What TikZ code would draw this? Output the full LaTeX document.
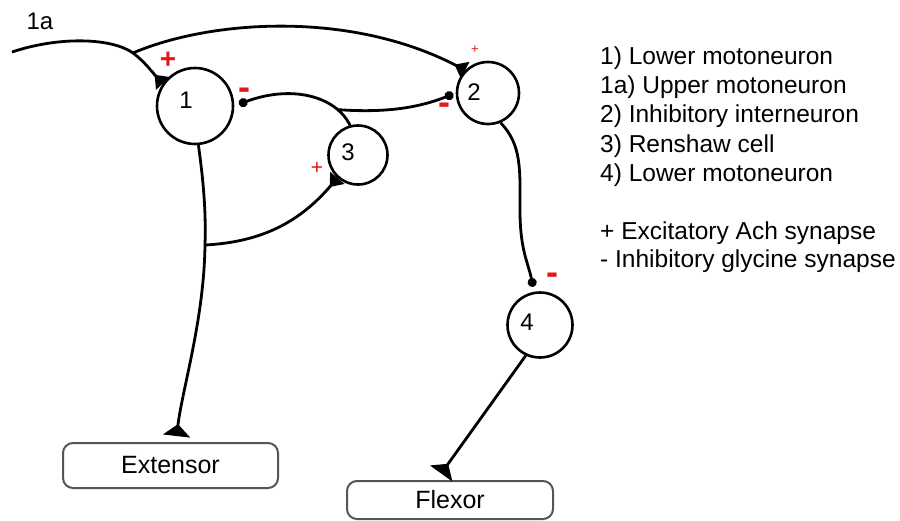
\documentclass[tikz,border=0pt]{standalone}
\usepackage{fontspec}
\setmainfont{Liberation Sans}
\usetikzlibrary{arrows.meta,calc}
\definecolor{synred}{RGB}{228,24,24}
\definecolor{boxgray}{RGB}{85,85,85}
\begin{document}
\begin{tikzpicture}[x=1pt,y=-1pt,
  neuron/.style={circle,draw,line width=2.6pt,minimum size=#1,inner sep=0pt},
  musclebox/.style={draw=boxgray,line width=2pt,rounded corners=10pt,
    minimum width=#1,minimum height=45pt,inner sep=0pt,font=\fontsize{25}{29}\selectfont},
  ax/.style={line width=2.8pt},
  exc/.style={-{Triangle[reversed,width=18pt,length=12pt]}},
  excbig/.style={-{Triangle[reversed,width=27pt,length=12pt]}},
  inh/.style={-{Circle[length=9pt]},shorten >=5pt},
  numlbl/.style={font=\fontsize{24}{28}\selectfont,inner sep=0pt},
  legend/.style={anchor=base west,inner sep=0pt,font=\fontsize{24.5}{29}\selectfont},
  sign/.style={text=synred,inner sep=0pt,font=\fontsize{#1}{#1}\selectfont\bfseries},
  thinsign/.style={text=synred,inner sep=0pt,font=\fontsize{#1}{#1}\selectfont}]
\useasboundingbox (0,0) rectangle (900,520);
\fill[white] (0,0) rectangle (900,520);

% neurons
\node[neuron=76pt] (c1) at (195,106) {};
\node[neuron=62pt] (c2) at (488,93) {};
\node[neuron=59pt] (c3) at (358,155) {};
\node[neuron=65pt] (c4) at (540,325) {};
\node[numlbl] (l1) at (186,100) {1};
\node[numlbl] (l2) at (474,92) {2};
\node[numlbl] (l3) at (348,152) {3};
\node[numlbl] (l4) at (527,322) {4};

% muscles
\node[musclebox=215pt] (ext) at (170.5,465.5) {Extensor};
\node[musclebox=206pt,minimum height=38pt] (flx) at (450,500) {Flexor};

% 1a afferent
\coordinate (a0) at (12,52);
\node[numlbl] (la) at (40,21) {1a};
\draw[ax,exc] (a0) .. controls (60,36) and (112,38) .. coordinate[pos=1] (j1) (133,53)
   .. controls (145,62) and (152,72) .. (c1.145);
\draw[ax,exc] (j1) .. controls (210,20) and (350,10) .. (c2.135);

% Renshaw axon to 1 and 2
\draw[ax,inh] (c3.105) .. controls (335,95) and (290,85) .. coordinate[pos=0.2] (j2) (c1.east);
\draw[ax,inh,shorten >=2.5pt] (j2) .. controls (385,113) and (418,108) .. (c2.west);

% 2 to 4
\coordinate (m2) at (520,210);
\draw[ax] (c2.-67) .. controls (522,145) and (520,170) .. (m2);
\draw[ax,inh] (m2) .. controls (520,250) and (528,262) .. (c4.100);

% 1 to extensor, branch to 3
\coordinate (j3) at (205,245);
\draw[ax] (c1.-85) .. controls (204,185) and (206,215) .. (j3);
\draw[ax,excbig,shorten >=6pt] (j3) .. controls (204,320) and (182,390) .. (ext.77);
\draw[ax,exc] (j3) .. controls (262,242) and (300,222) .. (c3.-132);

% 4 to flexor
\draw[ax,excbig,shorten >=8pt] (c4.-115) -- (flx.124);

% synapse signs
\node[sign=28] (s1) at (168,60) {+};
\node[thinsign=13] (s2) at (475,50) {+};
\node[thinsign=21] (s3) at (317,168) {+};
\node[sign=36] (m1) at (244,94) {-};
\node[sign=36] (m2s) at (444,109) {-};
\node[sign=36] (m4) at (552,279) {-};

% legend
\node[legend] (t1) at (600,64) {1) Lower motoneuron};
\node[legend] (t2) at (600,93) {1a) Upper motoneuron};
\node[legend] (t3) at (600,122) {2) Inhibitory interneuron};
\node[legend] (t4) at (600,152) {3) Renshaw cell};
\node[legend] (t5) at (600,181) {4) Lower motoneuron};
\node[legend] (t6) at (600,239) {+ Excitatory Ach synapse};
\node[legend] (t7) at (600,267) {- Inhibitory glycine synapse};
\end{tikzpicture}
\end{document}
